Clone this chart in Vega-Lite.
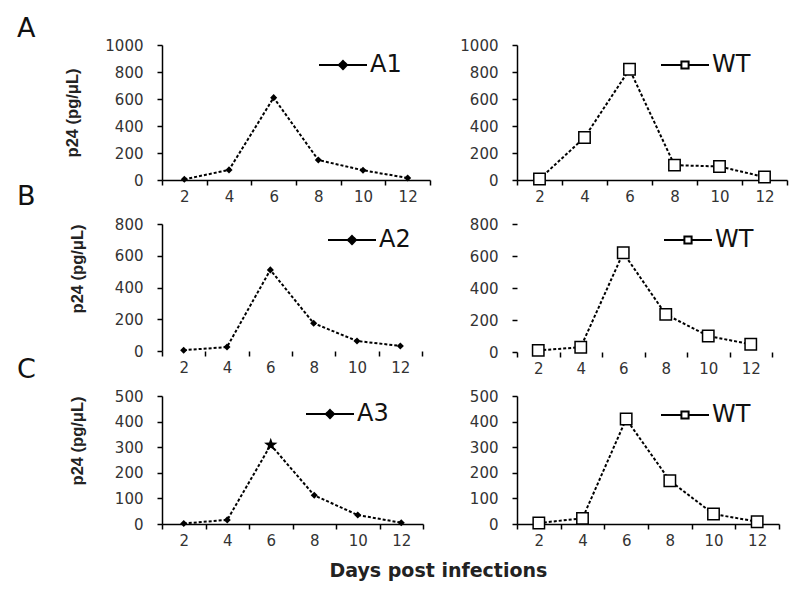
{
  "$schema": "https://vega.github.io/schema/vega-lite/v6.json",
  "background": "white",
  "padding": {"left": 17, "top": 15, "right": 5, "bottom": 5},
  "datasets": {
    "p24": [
      {"panel": "A1", "series": "A1", "day": 2, "value": 5},
      {"panel": "A1", "series": "A1", "day": 4, "value": 75},
      {"panel": "A1", "series": "A1", "day": 6, "value": 610},
      {"panel": "A1", "series": "A1", "day": 8, "value": 148},
      {"panel": "A1", "series": "A1", "day": 10, "value": 72},
      {"panel": "A1", "series": "A1", "day": 12, "value": 15},
      {"panel": "AWT", "series": "WT", "day": 2, "value": 7},
      {"panel": "AWT", "series": "WT", "day": 4, "value": 315},
      {"panel": "AWT", "series": "WT", "day": 6, "value": 820},
      {"panel": "AWT", "series": "WT", "day": 8, "value": 110},
      {"panel": "AWT", "series": "WT", "day": 10, "value": 100},
      {"panel": "AWT", "series": "WT", "day": 12, "value": 22},
      {"panel": "A2", "series": "A2", "day": 2, "value": 5},
      {"panel": "A2", "series": "A2", "day": 4, "value": 25},
      {"panel": "A2", "series": "A2", "day": 6, "value": 511},
      {"panel": "A2", "series": "A2", "day": 8, "value": 175},
      {"panel": "A2", "series": "A2", "day": 10, "value": 63},
      {"panel": "A2", "series": "A2", "day": 12, "value": 32},
      {"panel": "BWT", "series": "WT", "day": 2, "value": 10},
      {"panel": "BWT", "series": "WT", "day": 4, "value": 30},
      {"panel": "BWT", "series": "WT", "day": 6, "value": 620},
      {"panel": "BWT", "series": "WT", "day": 8, "value": 235},
      {"panel": "BWT", "series": "WT", "day": 10, "value": 100},
      {"panel": "BWT", "series": "WT", "day": 12, "value": 48},
      {"panel": "A3", "series": "A3", "day": 2, "value": 2},
      {"panel": "A3", "series": "A3", "day": 4, "value": 16},
      {"panel": "A3", "series": "A3", "day": 6, "value": 309},
      {"panel": "A3", "series": "A3", "day": 8, "value": 112},
      {"panel": "A3", "series": "A3", "day": 10, "value": 35},
      {"panel": "A3", "series": "A3", "day": 12, "value": 5},
      {"panel": "CWT", "series": "WT", "day": 2, "value": 4},
      {"panel": "CWT", "series": "WT", "day": 4, "value": 22},
      {"panel": "CWT", "series": "WT", "day": 6, "value": 410},
      {"panel": "CWT", "series": "WT", "day": 8, "value": 169},
      {"panel": "CWT", "series": "WT", "day": 10, "value": 39},
      {"panel": "CWT", "series": "WT", "day": 12, "value": 9}
    ]
  },
  "title": {"text": "Days post infections", "orient": "bottom", "anchor": "middle", "frame": "bounds", "dx": 36, "offset": 14, "fontSize": 19, "font": "DejaVu Sans", "fontWeight": "bold", "color": "#222"},
  "columns": 2,
  "bounds": "flush",
  "spacing": {"row": 44, "column": 87},
  "resolve": {"scale": {"color": "independent", "x": "independent", "y": "independent"}, "legend": {"color": "independent"}},
  "concat": [
    {
      "width": 268, "height": 135,
      "title": {"text": "A", "anchor": "start", "frame": "group", "dx": -145, "dy": 5, "offset": 0, "fontSize": 27, "font": "DejaVu Sans", "fontWeight": "normal", "color": "#111"},
      "data": {"name": "p24"},
      "transform": [{"filter": "datum.panel === 'A1'"}],
      "encoding": {
        "x": {"field": "day", "type": "ordinal", "bandPosition": 0.5, "scale": {"type": "band", "paddingInner": 0, "paddingOuter": 0, "domain": [2, 4, 6, 8, 10, 12]}, "axis": {"title": null}},
        "y": {"field": "value", "type": "quantitative", "scale": {"domain": [0, 1000], "nice": false}, "axis": {"values": [0, 200, 400, 600, 800, 1000], "title": "p24 (pg/μL)", "titlePadding": 24}}
      },
      "layer": [
        {"mark": {"type": "line", "strokeDash": [3, 2], "strokeWidth": 2},
         "encoding": {"color": {"field": "series", "type": "nominal", "scale": {"range": ["black"]},
           "legend": {"orient": "none", "legendX": 156, "legendY": -5, "title": null, "padding": 0, "symbolType": "M-1,0L1,0M0,-0.17L0.17,0L0,0.17L-0.17,0Z", "symbolSize": 2304, "symbolStrokeWidth": 2, "symbolDash": [1, 0], "symbolFillColor": "black", "symbolStrokeColor": "black", "labelFontSize": 24, "labelFont": "DejaVu Sans", "labelColor": "#111", "labelOffset": 2}}}},
        {"mark": {"type": "point", "shape": "diamond", "filled": true, "size": 50, "color": "black", "opacity": 1}}
      ]
    },
    {
      "width": 270, "height": 135,
      "data": {"name": "p24"},
      "transform": [{"filter": "datum.panel === 'AWT'"}],
      "encoding": {
        "x": {"field": "day", "type": "ordinal", "bandPosition": 0.5, "scale": {"type": "band", "paddingInner": 0, "paddingOuter": 0, "domain": [2, 4, 6, 8, 10, 12]}, "axis": {"title": null}},
        "y": {"field": "value", "type": "quantitative", "scale": {"domain": [0, 1000], "nice": false}, "axis": {"values": [0, 200, 400, 600, 800, 1000], "title": null}}
      },
      "layer": [
        {"mark": {"type": "line", "strokeDash": [3, 2], "strokeWidth": 2},
         "encoding": {"color": {"field": "series", "type": "nominal", "scale": {"range": ["black"]},
           "legend": {"orient": "none", "legendX": 143, "legendY": -5, "title": null, "padding": 0, "symbolType": "M-1,0L-0.15,0M0.15,0L1,0M-0.15,-0.15L0.15,-0.15L0.15,0.15L-0.15,0.15Z", "symbolSize": 2304, "symbolStrokeWidth": 2, "symbolDash": [1, 0], "symbolFillColor": "white", "symbolStrokeColor": "black", "labelFontSize": 24, "labelFont": "DejaVu Sans", "labelColor": "#111", "labelOffset": 2}}}},
        {"mark": {"type": "point", "shape": "square", "filled": false, "fill": "white", "stroke": "black", "strokeWidth": 1.5, "size": 130, "opacity": 1}}
      ]
    },
    {
      "width": 260, "height": 127,
      "title": {"text": "B", "anchor": "start", "frame": "group", "dx": -145, "dy": -4, "offset": 0, "fontSize": 27, "font": "DejaVu Sans", "fontWeight": "normal", "color": "#111"},
      "data": {"name": "p24"},
      "transform": [{"filter": "datum.panel === 'A2'"}],
      "encoding": {
        "x": {"field": "day", "type": "ordinal", "bandPosition": 0.5, "scale": {"type": "band", "paddingInner": 0, "paddingOuter": 0, "domain": [2, 4, 6, 8, 10, 12]}, "axis": {"title": null, "domain": false}},
        "y": {"field": "value", "type": "quantitative", "scale": {"domain": [0, 800], "nice": false}, "axis": {"values": [0, 200, 400, 600, 800], "title": "p24 (pg/μL)", "titleAnchor": "end", "titlePadding": 29}}
      },
      "layer": [
        {"mark": {"type": "line", "strokeDash": [3, 2], "strokeWidth": 2},
         "encoding": {"color": {"field": "series", "type": "nominal", "scale": {"range": ["black"]},
           "legend": {"orient": "none", "legendX": 165, "legendY": -9, "title": null, "padding": 0, "symbolType": "M-1,0L1,0M0,-0.17L0.17,0L0,0.17L-0.17,0Z", "symbolSize": 2304, "symbolStrokeWidth": 2, "symbolDash": [1, 0], "symbolFillColor": "black", "symbolStrokeColor": "black", "labelFontSize": 24, "labelFont": "DejaVu Sans", "labelColor": "#111", "labelOffset": 2}}}},
        {"mark": {"type": "point", "shape": "diamond", "filled": true, "size": 50, "color": "black", "opacity": 1}}
      ]
    },
    {
      "width": 255, "height": 128,
      "data": {"name": "p24"},
      "transform": [{"filter": "datum.panel === 'BWT'"}],
      "encoding": {
        "x": {"field": "day", "type": "ordinal", "bandPosition": 0.5, "scale": {"type": "band", "paddingInner": 0, "paddingOuter": 0, "domain": [2, 4, 6, 8, 10, 12]}, "axis": {"title": null, "domain": false}},
        "y": {"field": "value", "type": "quantitative", "scale": {"domain": [0, 800], "nice": false}, "axis": {"values": [0, 200, 400, 600, 800], "title": null, "domain": false}}
      },
      "layer": [
        {"mark": {"type": "line", "strokeDash": [3, 2], "strokeWidth": 2},
         "encoding": {"color": {"field": "series", "type": "nominal", "scale": {"range": ["black"]},
           "legend": {"orient": "none", "legendX": 146, "legendY": -9, "title": null, "padding": 0, "symbolType": "M-1,0L-0.15,0M0.15,0L1,0M-0.15,-0.15L0.15,-0.15L0.15,0.15L-0.15,0.15Z", "symbolSize": 2304, "symbolStrokeWidth": 2, "symbolDash": [1, 0], "symbolFillColor": "white", "symbolStrokeColor": "black", "labelFontSize": 24, "labelFont": "DejaVu Sans", "labelColor": "#111", "labelOffset": 2}}}},
        {"mark": {"type": "point", "shape": "square", "filled": false, "fill": "white", "stroke": "black", "strokeWidth": 1.5, "size": 130, "opacity": 1}}
      ]
    },
    {
      "width": 261, "height": 128,
      "title": {"text": "C", "anchor": "start", "frame": "group", "dx": -145, "dy": -5.5, "offset": 0, "fontSize": 27, "font": "DejaVu Sans", "fontWeight": "normal", "color": "#111"},
      "data": {"name": "p24"},
      "transform": [{"filter": "datum.panel === 'A3'"}],
      "encoding": {
        "x": {"field": "day", "type": "ordinal", "bandPosition": 0.5, "scale": {"type": "band", "paddingInner": 0, "paddingOuter": 0, "domain": [2, 4, 6, 8, 10, 12]}, "axis": {"title": null}},
        "y": {"field": "value", "type": "quantitative", "scale": {"domain": [0, 500], "nice": false}, "axis": {"values": [0, 100, 200, 300, 400, 500], "title": "p24 (pg/μL)", "titleAnchor": "end", "titlePadding": 29}}
      },
      "layer": [
        {"mark": {"type": "line", "strokeDash": [3, 2], "strokeWidth": 2},
         "encoding": {"color": {"field": "series", "type": "nominal", "scale": {"range": ["black"]},
           "legend": {"orient": "none", "legendX": 143, "legendY": -7, "title": null, "padding": 0, "symbolType": "M-1,0L1,0M0,-0.17L0.17,0L0,0.17L-0.17,0Z", "symbolSize": 2304, "symbolStrokeWidth": 2, "symbolDash": [1, 0], "symbolFillColor": "black", "symbolStrokeColor": "black", "labelFontSize": 24, "labelFont": "DejaVu Sans", "labelColor": "#111", "labelOffset": 2}}}},
        {"mark": {"type": "point", "filled": true, "color": "black", "opacity": 1},
         "encoding": {"shape": {"condition": {"test": "datum.day === 6", "value": "M0,-1L0.235,-0.324L0.951,-0.309L0.38,0.124L0.588,0.809L0,0.4L-0.588,0.809L-0.38,0.124L-0.951,-0.309L-0.235,-0.324Z"}, "value": "diamond"},
                      "size": {"condition": {"test": "datum.day === 6", "value": 200}, "value": 50}}}
      ]
    },
    {
      "width": 262, "height": 128,
      "data": {"name": "p24"},
      "transform": [{"filter": "datum.panel === 'CWT'"}],
      "encoding": {
        "x": {"field": "day", "type": "ordinal", "bandPosition": 0.5, "scale": {"type": "band", "paddingInner": 0, "paddingOuter": 0, "domain": [2, 4, 6, 8, 10, 12]}, "axis": {"title": null}},
        "y": {"field": "value", "type": "quantitative", "scale": {"domain": [0, 500], "nice": false}, "axis": {"values": [0, 100, 200, 300, 400, 500], "title": null}}
      },
      "layer": [
        {"mark": {"type": "line", "strokeDash": [3, 2], "strokeWidth": 2},
         "encoding": {"color": {"field": "series", "type": "nominal", "scale": {"range": ["black"]},
           "legend": {"orient": "none", "legendX": 143, "legendY": -6, "title": null, "padding": 0, "symbolType": "M-1,0L-0.15,0M0.15,0L1,0M-0.15,-0.15L0.15,-0.15L0.15,0.15L-0.15,0.15Z", "symbolSize": 2304, "symbolStrokeWidth": 2, "symbolDash": [1, 0], "symbolFillColor": "white", "symbolStrokeColor": "black", "labelFontSize": 24, "labelFont": "DejaVu Sans", "labelColor": "#111", "labelOffset": 2}}}},
        {"mark": {"type": "point", "shape": "square", "filled": false, "fill": "white", "stroke": "black", "strokeWidth": 1.5, "size": 130, "opacity": 1}}
      ]
    }
  ],
  "config": {
    "view": {"stroke": null},
    "axis": {"grid": false, "domainColor": "black", "tickColor": "black", "domainWidth": 1.5, "tickWidth": 1.5, "tickSize": 5, "labelFont": "DejaVu Sans", "labelFontSize": 15, "labelColor": "#333", "titleFont": "Liberation Sans", "titleFontSize": 16.5, "titleFontWeight": "bold", "titleColor": "#222", "titlePadding": 14},
    "axisX": {"labelAngle": 0, "tickBand": "extent", "labelPadding": 4},
    "axisY": {"labelPadding": 14, "format": "d"}
  }
}
